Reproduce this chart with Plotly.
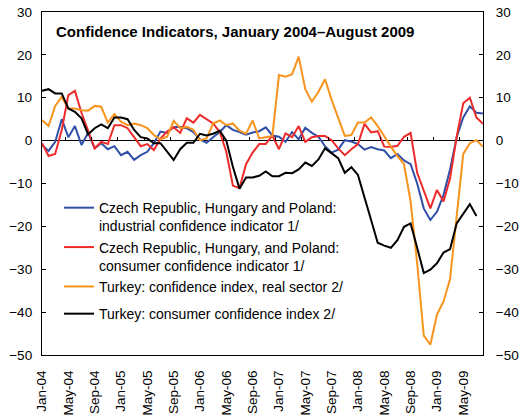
import plotly.graph_objects as go
import pandas as pd

# ---- data ----
months = pd.date_range("2004-01-01", "2009-08-01", freq="MS").strftime("%b-%y").tolist()

tick_labels = ["Jan-04", "May-04", "Sep-04", "Jan-05", "May-05", "Sep-05", "Jan-06",
               "May-06", "Sep-06", "Jan-07", "May-07", "Sep-07", "Jan-08", "May-08",
               "Sep-08", "Jan-09", "May-09"]

ce3_industrial = [-1.0, -2.4, -0.3, 5.0, 0.8, 3.4, -1.0, 1.8, -1.8, -0.6, -2.0, -1.3,
                  -3.4, -2.6, -4.5, -3.4, -2.6, -0.6, 2.1, 1.8, 3.2, 3.2, 2.9, 2.0,
                  0.3, -0.5, 0.8, 2.0, 3.6, 2.5, 2.0, 1.4, 1.9, 2.2, 3.1, 1.2,
                  0.9, -0.3, 2.0, 0.3, 3.0, 1.8, 0.9, -1.3, -2.8, -2.1, 0.1, -0.2,
                  -0.8, -2.1, -1.5, -2.0, -2.3, -4.1, -3.1, -4.6, -5.5, -10.0, -15.8, -18.5,
                  -16.6, -12.7, -6.7, 0.8, 5.4, 8.0, 6.5, 6.3]

ce3_consumer = [-0.6, -3.6, -3.1, 2.5, 10.6, 11.6, 6.5, 2.5, -1.8, -0.3, -0.8, 3.6,
                3.6, 2.9, 0.9, -1.3, -0.8, -2.2, 0.5, 2.1, 3.1, 1.8, 5.2, 4.2,
                6.0, 5.0, 4.0, 2.0, -2.6, -10.5, -11.1, -5.5, -2.8, -0.8, -0.8, 1.2,
                -2.0, 1.7, 0.8, 3.4, -0.3, 0.8, 1.1, 1.1, 0.1, -1.8, -3.4, -2.0,
                -0.8, 3.9, 1.9, 2.2, -1.4, -1.5, -1.2, 0.9, 1.8, -7.5, -11.5, -15.8,
                -11.5, -14.2, -8.8, 0.9, 8.7, 10.0, 5.4, 3.9]

turkey_real = [4.8, 3.4, 8.1, 10.2, 7.5, 7.5, 7.1, 7.0, 8.1, 7.9, 4.2, 6.2,
               4.4, 3.6, 4.0, 3.6, 2.9, 1.3, 0.3, 0.9, 4.6, 2.9, 3.2, 2.5,
               0.1, 0.5, 4.0, 4.7, 3.6, 4.0, 2.3, 1.6, 4.7, 0.5, 0.8, 1.1,
               15.3, 14.9, 15.5, 19.6, 12.0, 9.1, 11.4, 14.3, 9.5, 5.2, 1.1, 1.3,
               4.2, 4.2, 5.4, 3.4, 0.9, -1.4, -3.6, -5.5, -14.2, -28.6, -45.5, -47.6,
               -40.6, -37.5, -32.3, -18.0, -3.1, -0.6, 0.1, -1.4]

turkey_consumer = [11.6, 12.0, 11.0, 11.0, 7.5, 6.7, 5.2, 1.5, 2.9, 3.8, 2.9, 5.4,
                   5.4, 5.0, 2.5, 0.8, 0.5, -0.6, -0.6, -2.6, -4.5, -2.0, -0.5, -0.5,
                   1.6, 1.2, 1.6, 2.3, 0.0, -6.1, -11.2, -8.6, -8.6, -8.2, -7.2, -8.3,
                   -8.3, -7.5, -7.6, -6.7, -5.1, -5.9, -4.4, -1.8, -3.0, -4.1, -7.5, -6.2,
                   -8.0, -13.0, -18.5, -23.8, -24.5, -25.0, -23.2, -20.1, -19.3, -25.0, -30.9, -30.1,
                   -28.6, -26.1, -25.3, -19.3, -16.9, -14.8, -17.6]

series_names = ["Czech Republic, Hungary and Poland:<br>industrial confidence indicator 1/",
                "Czech Republic, Hungary, and Poland:<br>consumer confidence indicator 1/",
                "Turkey: confidence index, real sector 2/",
                "Turkey: consumer confidence index 2/"]
series_values = [ce3_industrial, ce3_consumer, turkey_real, turkey_consumer]
series_colors = ["#3050A8", "#EE2B2B", "#F7941D", "#000000"]
series_groups = ["a", "a", "a", "b"]

title_text = "Confidence Indicators, January 2004\u2013August 2009"

# ---- figure ----
FONT = "Liberation Sans, Arial, sans-serif"
fig = go.Figure()
for name, vals, col, grp in zip(series_names, series_values, series_colors, series_groups):
    fig.add_trace(go.Scatter(x=months[:len(vals)], y=vals, mode="lines", name=name,
                             legendgroup=grp, line=dict(color=col, width=2)))

# empty trace so the secondary (right / zero-line tick) axes get drawn
fig.add_trace(go.Scatter(x=[], y=[], xaxis="x2", yaxis="y2", showlegend=False,
                         hoverinfo="skip"))

label_pos = [months.index(t) for t in tick_labels]
zero_ticks = [p - 0.5 for p in label_pos[1:]]

fig.update_layout(
    template="none",
    width=523, height=420,
    margin=dict(l=42, r=40, t=11.5, b=65, autoexpand=False),
    paper_bgcolor="white", plot_bgcolor="white",
    font=dict(family=FONT, color="black", size=13.5),
    showlegend=True,
    legend=dict(x=0.0385, y=0.475, xanchor="left", yanchor="top",
                bgcolor="rgba(0,0,0,0)", font=dict(size=14, family=FONT),
                valign="top", traceorder="grouped", tracegroupgap=6),
    xaxis=dict(type="category", categoryorder="array", categoryarray=months,
               range=[0, len(months) - 1], tickmode="array",
               tickvals=tick_labels, ticktext=tick_labels, tickangle=-90,
               ticks="", showline=True, mirror=True, linecolor="black", linewidth=1.3,
               showgrid=False, zeroline=False, ticklabelstandoff=9, automargin=False,
               tickfont=dict(size=13.5)),
    xaxis2=dict(overlaying="x", anchor="free", position=0.625, side="top",
                range=[0, len(months) - 1], tickmode="array", tickvals=zero_ticks,
                ticks="outside", ticklen=4, tickcolor="black", tickwidth=1,
                showticklabels=False, showline=False, showgrid=False, zeroline=False,
                automargin=False),
    yaxis=dict(range=[-50, 30], tick0=0, dtick=10, ticks="inside", ticklen=4,
               tickcolor="black", showline=True, mirror=True, linecolor="black",
               linewidth=1.3, showgrid=False, zeroline=True, zerolinecolor="black",
               zerolinewidth=1, ticklabelstandoff=6, automargin=False,
               tickfont=dict(size=13.5)),
    yaxis2=dict(overlaying="y", side="right", anchor="x", range=[-50, 30], tick0=0,
                dtick=10, ticks="inside", ticklen=4, tickcolor="black", showline=True,
                linecolor="black", linewidth=1.3, showgrid=False, zeroline=False,
                ticklabelstandoff=9, automargin=False, tickfont=dict(size=13.5)),
    annotations=[dict(text="<b>" + title_text + "</b>", xref="paper", yref="paper",
                      x=0.028, y=0.942, xanchor="left", yanchor="middle",
                      showarrow=False, font=dict(size=15, family=FONT, color="black"))],
)

# remove the browser's default 8px body margin so the 523x420 figure fills the window
fig.write_html("out.html", config={"displayModeBar": False},
               post_script="document.body.style.margin='0';")
